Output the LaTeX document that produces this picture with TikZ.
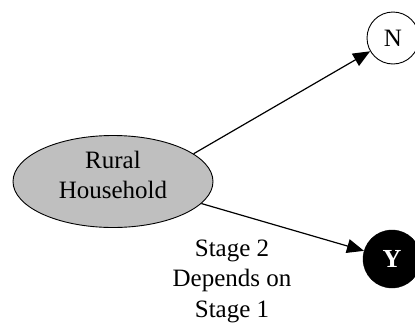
\documentclass[tikz,border=0pt]{standalone}
\usepackage{fontspec}
\setmainfont{Liberation Serif}
\usetikzlibrary{arrows.meta,shapes.geometric}
\begin{document}
\begin{tikzpicture}[x=1pt,y=-1pt,
  txt/.style={font=\fontsize{25}{30.5}\selectfont, align=center, inner sep=0pt},
  hh/.style={ellipse, draw=black, line width=0.9pt, fill=black!25, minimum width=200pt, minimum height=92pt, inner sep=0pt},
  vnode/.style={circle, draw=black, line width=0.9pt, fill=white, minimum size=52pt, inner sep=0pt, font=\fontsize{25}{30}\selectfont},
  ynode/.style={circle, draw=black, fill=black, minimum size=58pt, inner sep=0pt, text=white, font=\fontsize{26}{30}\selectfont\bfseries},
  conn/.style={line width=1.2pt, -{Triangle[length=17pt,width=14pt]}}
]
\useasboundingbox (0,0) rectangle (415,327);
\node[hh] (ell) at (113,181.5) {};
\node[txt] (elltext) at (113,175) {Rural\\Household};
\node[vnode] (N) at (393,38) {N};
\node[ynode] (Y) at (392,259) {Y};
\draw[conn] (ell.19.8) -- (N);
\draw[conn] (ell.-14.4) -- (Y);
\node[txt] (stage) at (232,281) {Stage 2\\Depends on\\Stage 1};
\end{tikzpicture}
\end{document}
